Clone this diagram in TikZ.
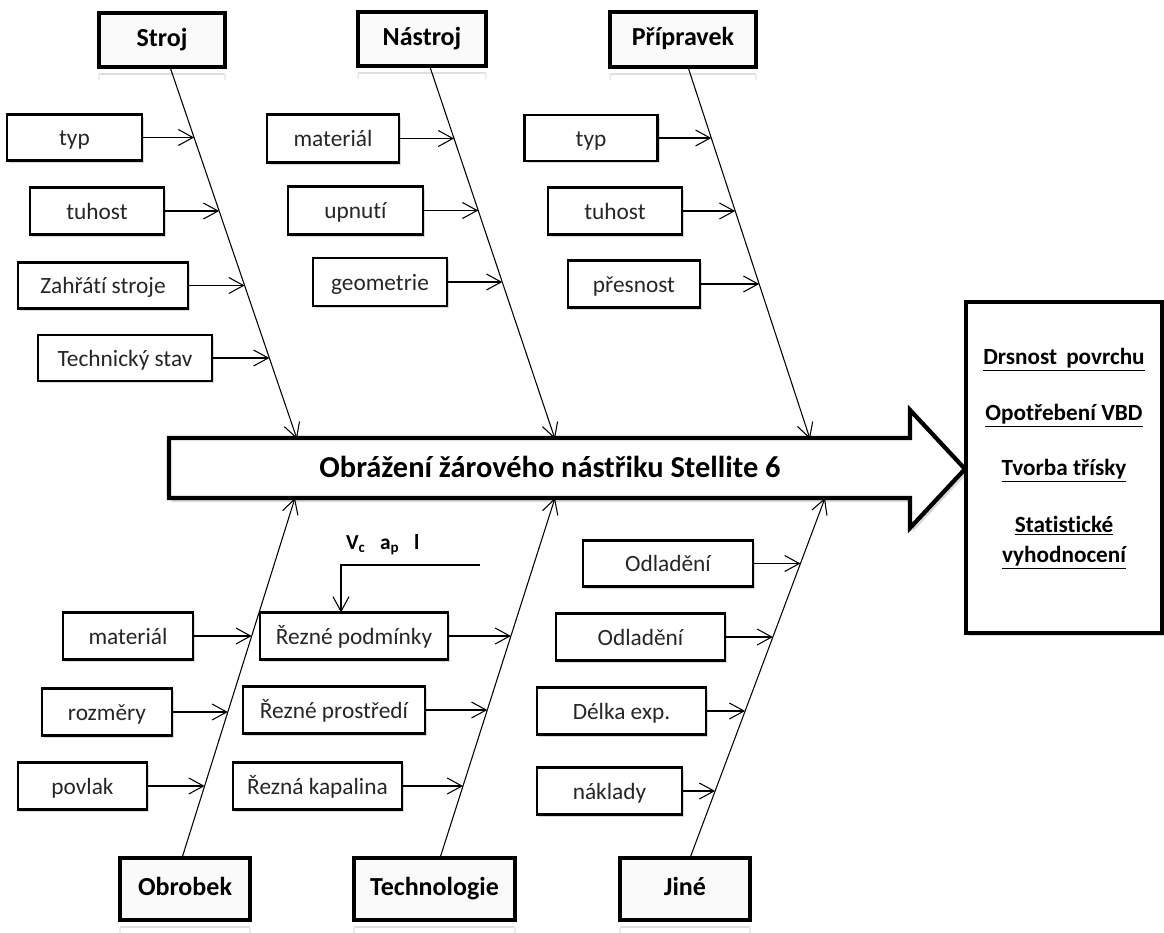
\documentclass[tikz,border=0pt]{standalone}
\usepackage{fontspec}
\setmainfont{Carlito}[Ligatures=NoCommon]
\usetikzlibrary{arrows.meta,shadows,calc}
\newcommand{\fbbranch}[3]{\draw[arr] let \p1=(#1.east), \p2=(#2), \p3=(#3), \n1={(\y1-\y2)/(\y3-\y2)} in (#1.east) -- ({\x2+\n1*(\x3-\x2)},\y1);}
\newcommand{\fbreflect}[1]{\draw[gray!25, line width=1.4pt] ([yshift=-5.5pt]#1.south west) -- ([yshift=-5.5pt]#1.south east);
  \draw[gray!15, line width=1.4pt] ([yshift=-5.5pt]#1.south west) -- ([yshift=-10pt]#1.south west);
  \draw[gray!15, line width=1.4pt] ([yshift=-5.5pt]#1.south east) -- ([yshift=-10pt]#1.south east);}
\begin{document}
\begin{tikzpicture}[x=0.75pt,y=-0.75pt,
  every node/.style={inner sep=0pt, outer sep=0pt},
  sz/.style 2 args={minimum width={#1*0.75pt}, minimum height={#2*0.75pt}},
  cause/.style={draw=black, line width=1.6pt, fill=white, text=black!85,
    font=\fontsize{17.5}{20}\selectfont, text height=15pt, text depth=3pt,
    drop shadow={shadow xshift=1.8pt, shadow yshift=-1.8pt, opacity=0.3}},
  cat/.style={draw=black, line width=3.6pt, fill=gray!4,
    font=\fontsize{19.5}{22}\selectfont\bfseries, text height=14pt, text depth=5pt,
    drop shadow={shadow xshift=1.5pt, shadow yshift=-1.5pt, opacity=0.2}},
  arr/.style={line width=0.8pt, -{Straight Barb[length=11pt,width=12pt]}},
  outtxt/.style={font=\fontsize{17.4}{20}\selectfont\bfseries, text height=14pt, text depth=4pt}
]
\useasboundingbox (0,0) rectangle (1164,932);

% main arrow (effect)
\draw[line width=3.2pt, fill=white, line join=miter,
  drop shadow={shadow xshift=2pt, shadow yshift=-3pt, opacity=0.3}]
  (169,438) -- (910,438) -- (910,410) -- (965,469) -- (910,528) -- (910,498) -- (169,498) -- cycle;
\node[font=\fontsize{22.8}{26}\selectfont\bfseries, text height=17pt, text depth=5pt] (effect) at (550,469) {Obrážení žárového nástřiku Stellite 6};

% result box
\node[draw=black, line width=3pt, fill=white, sz={196}{331},
  drop shadow={shadow xshift=2pt, shadow yshift=-2pt, opacity=0.3}] (out) at (1064,467.5) {};
\node[outtxt] (o1) at (1064,358) {\underline{Drsnost\, povrchu}};
\node[outtxt] (o2) at (1064,414) {\underline{Opotřebení VBD}};
\node[outtxt] (o3) at (1064,469) {\underline{Tvorba třísky}};
\node[outtxt] (o4) at (1064,526) {\underline{Statistické}};
\node[outtxt] (o5) at (1064,556) {\underline{vyhodnocení}};

% category boxes
\node[cat, sz={126}{54}] (stroj) at (162,40) {Stroj};
\node[cat, sz={128}{54}] (nastroj) at (422,39) {Nástroj};
\node[cat, sz={146}{55}] (prip) at (683,39.5) {Přípravek};
\node[cat, sz={130}{62}] (obrobek) at (185,889) {Obrobek};
\node[cat, sz={161}{62}] (techn) at (434.5,889) {Technologie};
\node[cat, sz={130}{62}] (jine) at (685,889) {Jiné};
\fbreflect{stroj}\fbreflect{nastroj}\fbreflect{prip}
\fbreflect{obrobek}\fbreflect{techn}\fbreflect{jine}

% spine coordinates
\coordinate (s1a) at (170,67);  \coordinate (s1b) at (297,439);
\coordinate (s2a) at (430,67);  \coordinate (s2b) at (555,439);
\coordinate (s3a) at (688,67);  \coordinate (s3b) at (810,439);
\coordinate (b1a) at (182,858); \coordinate (b1b) at (295,498);
\coordinate (b2a) at (440,858); \coordinate (b2b) at (555,498);
\coordinate (b3a) at (690,858); \coordinate (b3b) at (825,498);
\draw[arr] (s1a) -- (s1b);
\draw[arr] (s2a) -- (s2b);
\draw[arr] (s3a) -- (s3b);
\draw[arr] (b1a) -- (b1b);
\draw[arr] (b2a) -- (b2b);
\draw[arr] (b3a) -- (b3b);

% Stroj causes
\node[cause, sz={135}{46}] (typA) at (74.5,137.5) {typ};
\node[cause, sz={134}{47}] (tuhA) at (97,211) {tuhost};
\node[cause, sz={170}{46}] (zah) at (103,285.5) {Zahřátí stroje};
\node[cause, sz={174}{46}] (tech) at (125,358) {Technický stav};
% Nástroj causes
\node[cause, sz={132}{48}] (mat1) at (333,138.5) {materiál};
\node[cause, sz={135}{48}] (upn) at (355.5,210.5) {upnutí};
\node[cause, sz={134}{48}] (geo) at (380,282) {geometrie};
% Přípravek causes
\node[cause, sz={133}{46}] (typB) at (591,138) {typ};
\node[cause, sz={134}{47}] (tuhB) at (615,211) {tuhost};
\node[cause, sz={132}{47}] (pres) at (634,284) {přesnost};
% Obrobek causes
\node[cause, sz={130}{47}] (mat2) at (128,636) {materiál};
\node[cause, sz={130}{47}] (roz) at (107,712) {rozměry};
\node[cause, sz={129}{47}] (pov) at (82.5,786) {povlak};
% Technologie causes
\node[cause, sz={188}{47}] (rp) at (354,636) {Řezné podmínky};
\node[cause, sz={182}{47}] (rpr) at (334,710) {Řezné prostředí};
\node[cause, sz={169}{47}] (rk) at (317.5,786) {Řezná kapalina};
% Jiné causes
\node[cause, sz={170}{46}] (od1) at (668,563.5) {Odladění};
\node[cause, sz={169}{47}] (od2) at (640.5,637) {Odladění};
\node[cause, sz={169}{47}] (del) at (621.5,711) {Délka exp.};
\node[cause, sz={145}{47}] (nak) at (609.5,791) {náklady};

\fbbranch{typA}{s1a}{s1b}
\fbbranch{tuhA}{s1a}{s1b}
\fbbranch{zah}{s1a}{s1b}
\fbbranch{tech}{s1a}{s1b}
\fbbranch{mat1}{s2a}{s2b}
\fbbranch{upn}{s2a}{s2b}
\fbbranch{geo}{s2a}{s2b}
\fbbranch{typB}{s3a}{s3b}
\fbbranch{tuhB}{s3a}{s3b}
\fbbranch{pres}{s3a}{s3b}
\fbbranch{mat2}{b1a}{b1b}
\fbbranch{roz}{b1a}{b1b}
\fbbranch{pov}{b1a}{b1b}
\fbbranch{rp}{b2a}{b2b}
\fbbranch{rpr}{b2a}{b2b}
\fbbranch{rk}{b2a}{b2b}
\fbbranch{od1}{b3a}{b3b}
\fbbranch{od2}{b3a}{b3b}
\fbbranch{del}{b3a}{b3b}
\fbbranch{nak}{b3a}{b3b}

% cutting parameters
\node[font=\fontsize{16}{18}\selectfont\bfseries, anchor=base west] (par) at (346,549)
  {V\textsubscript{c}\hspace{11pt}a\textsubscript{p}\hspace{11pt}l};
\coordinate (pin) at (480,565);
\draw[arr] (pin) -| ([xshift=-9.75pt]rp.north);
\end{tikzpicture}
\end{document}
